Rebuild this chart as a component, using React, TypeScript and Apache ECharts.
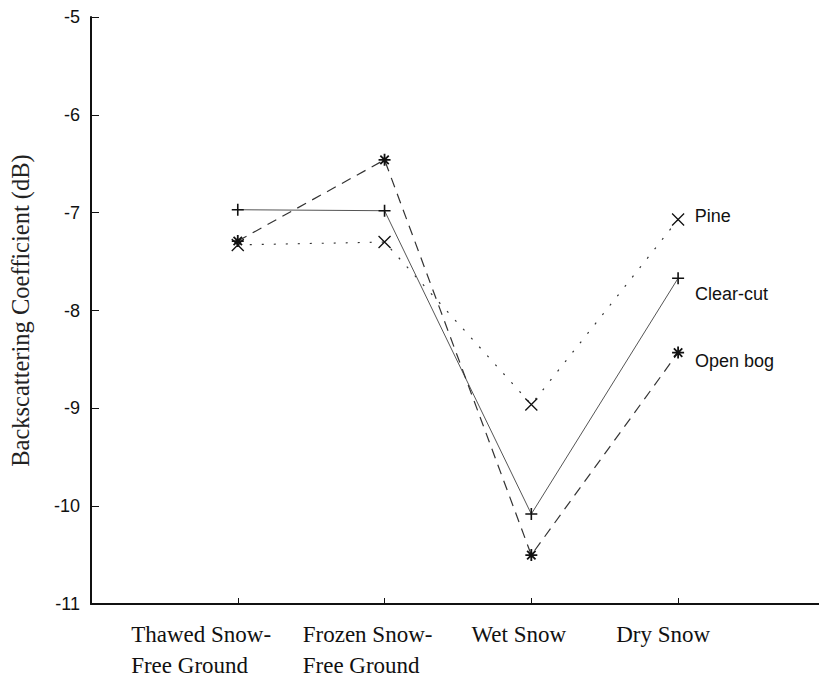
import React, { useEffect, useRef } from "react";
import * as echarts from "echarts";

// Snow condition categories (placed at x = 1..4 on the axis)
const categories: string[][] = [
  ["Thawed Snow-", "Free Ground"],
  ["Frozen Snow-", "Free Ground"],
  ["Wet Snow"],
  ["Dry Snow"],
];

// Backscattering coefficient (dB) per land cover type
const seriesNames = ["Pine", "Clear-cut", "Open bog"];
const pine = [-7.33, -7.3, -8.96, -7.07];
const clearCut = [-6.97, -6.98, -10.08, -7.67];
const openBog = [-7.29, -6.46, -10.5, -8.43];

const yTicks = [-11, -10, -9, -8, -7, -6, -5];

// Marker glyphs
const SYM_CROSS = "path://M0,0L10,10M10,0L0,10";
const SYM_PLUS = "path://M5,0L5,10M0,5L10,5";
const SYM_STAR = "path://M5,0L5,10M0,5L10,5M1.5,1.5L8.5,8.5M8.5,1.5L1.5,8.5";

// Layout of the category labels: block width (text left-aligned inside)
// and horizontal shift of the block centre from its tick, in pixels
const labelBoxWidth = [144, 130, 96, 96];
const labelShiftPx = [-35, -17, -12, -14];

const GRID_LEFT = 83;
const CHART_W = 819;
const X_MAX = 4.96;

export default function App() {
  const ref = useRef<HTMLDivElement>(null);

  useEffect(() => {
    if (!ref.current) return;
    const chart = echarts.init(ref.current, null, { renderer: "svg" });
    const unitPx = (CHART_W - GRID_LEFT) / X_MAX;

    const makeSeries = (
      name: string,
      values: number[],
      symbol: string,
      symbolSize: number,
      lineType: any,
      lineColor: string,
      lineWidth: number,
      markWidth: number,
      labelOffset: number[]
    ) => ({
      name,
      type: "line",
      symbol,
      symbolSize,
      showAllSymbol: true,
      lineStyle: { type: lineType, color: lineColor, width: lineWidth },
      itemStyle: { color: "#111", borderColor: "#111", borderWidth: markWidth },
      emphasis: { disabled: true },
      data: values.map((v, i) =>
        i === values.length - 1
          ? {
              value: [i + 1, v],
              label: {
                show: true,
                position: "right",
                distance: 10,
                offset: labelOffset,
                formatter: name,
                fontFamily: "Liberation Sans, Arial, sans-serif",
                fontSize: 18,
                color: "#111",
              },
            }
          : [i + 1, v]
      ),
    });

    const rich: Record<string, any> = {};
    categories.forEach((_, i) => {
      rich["c" + i] = {
        width: labelBoxWidth[i],
        align: "left",
        fontFamily: "Liberation Serif, Times New Roman, serif",
        fontSize: 23,
        lineHeight: 31,
        color: "#111",
      };
    });

    const labelPositions = categories.map((_, i) => i + 1 + labelShiftPx[i] / unitPx);

    chart.setOption({
      animation: false,
      backgroundColor: "#ffffff",
      grid: { left: GRID_LEFT, right: 0, top: 17, bottom: 67 },
      xAxis: {
        type: "value",
        min: 0,
        max: X_MAX,
        interval: 1,
        splitLine: { show: false },
        axisLine: { show: true, onZero: false, lineStyle: { color: "#111", width: 2 } },
        axisTick: {
          show: true,
          inside: true,
          length: 6,
          customValues: [1, 2, 3, 4],
          lineStyle: { color: "#111", width: 1 },
        },
        axisLabel: {
          show: true,
          margin: 15,
          showMinLabel: true,
          showMaxLabel: true,
          hideOverlap: false,
          customValues: labelPositions,
          formatter: (v: number) => {
            const i = Math.round(v) - 1;
            const lines = categories[i];
            if (!lines) return "";
            return lines.map((l) => `{c${i}|${l}}`).join("\n");
          },
          rich,
        },
      },
      yAxis: {
        type: "value",
        min: -11,
        max: -5,
        interval: 1,
        name: "Backscattering Coefficient (dB)",
        nameLocation: "middle",
        nameGap: 58,
        nameTextStyle: {
          fontFamily: "Liberation Serif, Times New Roman, serif",
          fontSize: 24.5,
          color: "#222",
        },
        splitLine: { show: false },
        axisLine: { show: true, onZero: false, lineStyle: { color: "#111", width: 2 } },
        axisTick: {
          show: true,
          inside: true,
          length: 8,
          lineStyle: { color: "#111", width: 1 },
        },
        axisLabel: {
          margin: 11,
          showMinLabel: true,
          showMaxLabel: true,
          fontFamily: "Liberation Sans, Arial, sans-serif",
          fontSize: 18,
          color: "#111",
          customValues: yTicks,
        },
      },
      series: [
        makeSeries(seriesNames[0], pine, SYM_CROSS, 12, [2, 10], "#333", 1.2, 1.3, [0, -4]),
        makeSeries(seriesNames[1], clearCut, SYM_PLUS, 12, "solid", "#555", 1, 1.6, [0, 16]),
        makeSeries(seriesNames[2], openBog, SYM_STAR, 12, [10, 7], "#333", 1.2, 1.8, [0, 8]),
      ],
    });

    return () => chart.dispose();
  }, []);

  return (
    <div
      ref={ref}
      style={{ position: "fixed", left: 0, top: 0, width: CHART_W, height: 677, background: "#fff" }}
    />
  );
}
